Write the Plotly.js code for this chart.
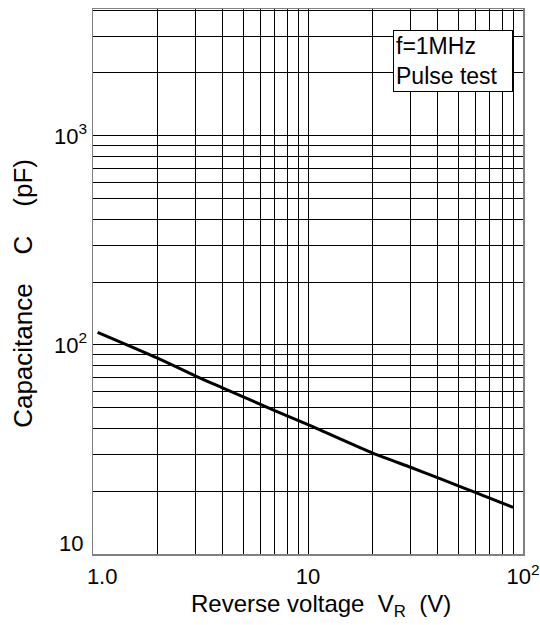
<!DOCTYPE html>
<html>
<head>
<meta charset="utf-8">
<script src="https://cdn.plot.ly/plotly-3.0.1.min.js"></script>
<style>html,body{margin:0;padding:0;background:#fff;}#chart{width:540px;height:625px;}</style>
</head>
<body>
<div id="chart"></div>
<script>
// Reverse voltage (V)
const voltage = [1.05, 2, 3, 4, 5, 7, 10, 20, 30, 40, 50, 60, 70, 90];
// Capacitance (pF)
const capacitance = [115, 86.5, 71, 62.4, 56.5, 48.5, 41.6, 30.4, 26, 23.2, 21.2, 19.7, 18.5, 16.7];

const xTickVals = [1, 10, 100];
const xTickText = ['\u00a0\u00a0\u00a01.0', '10', '10<sup>2</sup>'];
const yTickVals = [10, 100, 1000];
const yTickText = ['10', '10<sup>2</sup>', '10<sup>3</sup>'];

const noteLines = ['f=1MHz', 'Pulse test'];
const xTitle = 'Reverse voltage\u00a0\u00a0V<sub>R</sub>\u00a0\u00a0(V)';
const yTitle = 'Capacitance\u00a0\u00a0\u00a0\u00a0C\u00a0\u00a0\u00a0\u00a0(pF)';

const font = 'Liberation Sans, Arial, sans-serif';

const trace = {
  x: voltage, y: capacitance, type: 'scatter', mode: 'lines',
  line: {color: '#000', width: 3, shape: 'spline', smoothing: 0.6}, hoverinfo: 'skip'
};

// the lowest y label is lifted off the x axis, as in the reference
const yTickTextShown = yTickText.map((t, i) => i === 0 ? '' : t);

const layout = {
  width: 540, height: 625,
  margin: {l: 93, r: 17, t: 9, b: 71},
  paper_bgcolor: '#fff', plot_bgcolor: '#fff',
  showlegend: false,
  font: {family: font, color: '#000'},
  xaxis: {
    type: 'log', range: [0, 2],
    tickvals: xTickVals, ticktext: xTickText,
    tickfont: {size: 22, family: font},
    ticks: '', ticklabelstandoff: 2,
    showgrid: true, gridcolor: '#000', gridwidth: 1,
    minor: {showgrid: true, gridcolor: '#000', gridwidth: 1, dtick: 'D1', ticks: ''},
    showline: true, linecolor: '#808080', linewidth: 1.5, mirror: true,
    zeroline: false
  },
  yaxis: {
    type: 'log', range: [1, 3.607],
    tickvals: yTickVals, ticktext: yTickTextShown,
    tickfont: {size: 22, family: font},
    ticks: '',
    showgrid: true, gridcolor: '#000', gridwidth: 1,
    minor: {showgrid: true, gridcolor: '#000', gridwidth: 1, dtick: 'D1', ticks: ''},
    showline: true, linecolor: '#808080', linewidth: 1.5, mirror: true,
    zeroline: false
  },
  annotations: [
    {
      xref: 'paper', yref: 'paper', x: 0.698, y: 0.961,
      xanchor: 'left', yanchor: 'top',
      text: noteLines.join('<br>'), align: 'left', showarrow: false,
      width: 114, height: 56,
      font: {size: 23, family: font, color: '#000'},
      bgcolor: '#fff', bordercolor: '#000', borderwidth: 1, borderpad: 2
    },
    {
      xref: 'paper', yref: 'y', x: 0, y: Math.log10(yTickVals[0]),
      xanchor: 'right', yanchor: 'bottom', xshift: -8, yshift: -4,
      text: yTickText[0], showarrow: false,
      font: {size: 22, family: font, color: '#000'}
    },
    {
      xref: 'paper', yref: 'paper', x: 0.530, y: -0.094,
      xanchor: 'center', yanchor: 'middle',
      text: xTitle, showarrow: false,
      font: {size: 24, family: font, color: '#000'}
    },
    {
      xref: 'paper', yref: 'paper', x: -0.162, y: 0.478,
      xanchor: 'center', yanchor: 'middle', textangle: -90,
      text: yTitle, showarrow: false,
      font: {size: 26, family: font, color: '#000'}
    }
  ]
};

Plotly.newPlot('chart', [trace], layout, {displayModeBar: false, staticPlot: true});
</script>
</body>
</html>
